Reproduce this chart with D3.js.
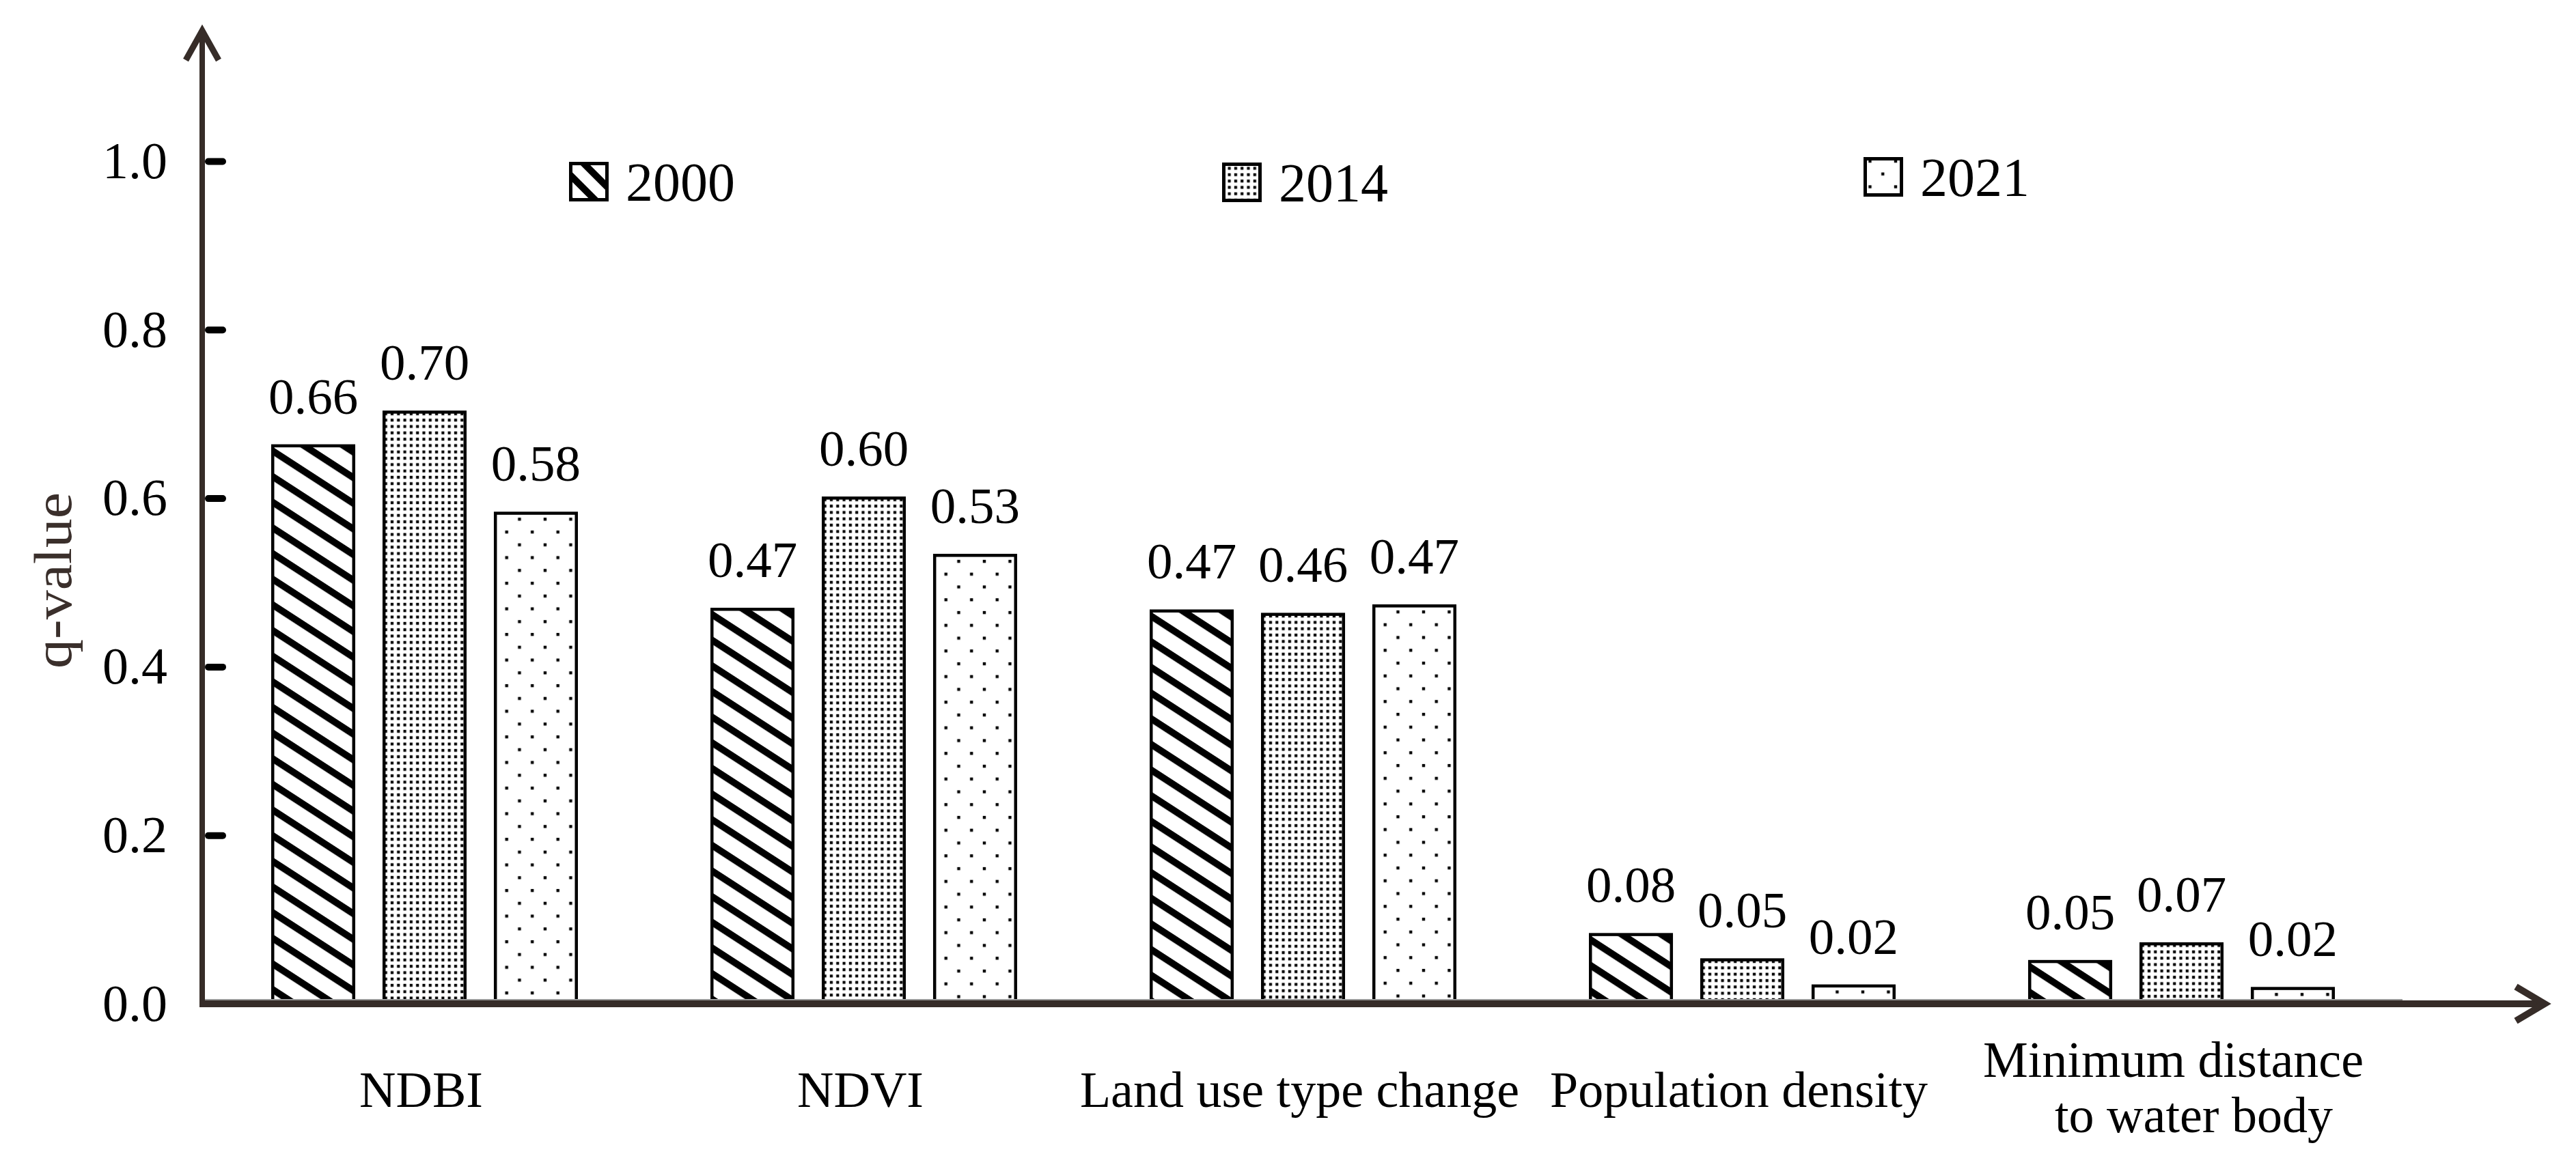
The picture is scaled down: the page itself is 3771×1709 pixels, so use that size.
<!DOCTYPE html>
<html>
<head>
<meta charset="utf-8">
<script src="https://cdn.jsdelivr.net/npm/d3@7"></script>
<style>
  body { margin: 0; background: #fff; }
  text { font-family: "Liberation Serif", "Times New Roman", serif; }
</style>
</head>
<body>
<script>
// data
var categories = ["NDBI", "NDVI", "Land use type change", "Population density", "Minimum distance\nto water body"];
var years = ["2000", "2014", "2021"];
var q2000 = [0.664, 0.470, 0.468, 0.084, 0.052];
var q2014 = [0.704, 0.602, 0.464, 0.054, 0.073];
var q2021 = [0.584, 0.534, 0.474, 0.023, 0.020];
var yTicks = [0, 0.2, 0.4, 0.6, 0.8, 1.0];
var yTitle = "q-value";

var W = 3771, H = 1709;
var axisColor = "#362c28";
var series = [q2000, q2014, q2021];
var barFills = ["url(#stripe)", "url(#dense)", "url(#sparse)"];
var legendFills = ["url(#stripeLegend)", "url(#dense)", "url(#sparse)"];

var svg = d3.select("body").append("svg")
  .attr("width", W).attr("height", H);
svg.append("rect").attr("width", W).attr("height", H).attr("fill", "#fff");

var defs = svg.append("defs");

var makeStripe = function(id, period, thick, angle){
  var p = defs.append("pattern").attr("id", id)
    .attr("patternUnits", "userSpaceOnUse")
    .attr("width", 40).attr("height", period)
    .attr("patternTransform", "rotate(" + angle + ")");
  p.append("rect").attr("width", 40).attr("height", period).attr("fill", "#fff");
  p.append("rect").attr("y", 2).attr("width", 40).attr("height", thick).attr("fill", "#000");
};
makeStripe("stripe", 31.5, 10, 33);
makeStripe("stripeLegend", 26, 10, 45);

// dense dots (2014)
var dense = defs.append("pattern").attr("id", "dense")
  .attr("patternUnits", "userSpaceOnUse")
  .attr("width", 9.3).attr("height", 9.3);
dense.append("rect").attr("width", 9.3).attr("height", 9.3).attr("fill", "#fff");
dense.append("rect").attr("x", 2.6).attr("y", 2.6).attr("width", 4.2).attr("height", 4.2).attr("fill", "#000");

// sparse staggered dots (2021)
var sparse = defs.append("pattern").attr("id", "sparse")
  .attr("patternUnits", "userSpaceOnUse")
  .attr("width", 37.5).attr("height", 37.5);
sparse.append("rect").attr("width", 37.5).attr("height", 37.5).attr("fill", "#fff");
[[0, 11], [37.5, 11], [18.75, 29.75]].forEach(function(d){
  sparse.append("rect").attr("x", d[0] - 2.2).attr("y", d[1] - 2.2)
    .attr("width", 4.4).attr("height", 4.4).attr("fill", "#000");
});

// scales
var x0 = d3.scaleBand().domain(categories).range([300, 3515])
  .paddingInner(0.3017).paddingOuter(0.15085);
var x1 = d3.scaleBand().domain(years).range([0, x0.bandwidth()])
  .paddingInner(0.245);
var y = d3.scaleLinear().domain([0, 1]).range([1470, 236]);

var valFmt = d3.format(".2f");

// bars
var bw = x1.bandwidth();
years.forEach(function(yr, i){
  categories.forEach(function(cat, c){
    var v = series[i][c];
    var gx = x0(cat) + x1(yr), top = y(v);
    var g = svg.append("g").attr("transform", "translate(" + gx + "," + top + ")");
    g.append("rect")
      .attr("x", 2.25).attr("y", 2.25)
      .attr("width", bw - 4.5).attr("height", y(0) - top)
      .attr("fill", barFills[i])
      .attr("stroke", "#000").attr("stroke-width", 4.5);
    svg.append("text")
      .attr("x", gx + bw / 2).attr("y", top - 45)
      .attr("text-anchor", "middle")
      .attr("font-size", 75)
      .attr("fill", "#000")
      .text(valFmt(v));
  });
});

// faint line on top of x axis
svg.append("line")
  .attr("x1", 296).attr("x2", 3517).attr("y1", 1464).attr("y2", 1464)
  .attr("stroke", "#9a9a9a").attr("stroke-width", 2);

// y axis ticks and labels
var yAxis = d3.axisLeft(y).tickValues(yTicks)
  .tickFormat(d3.format(".1f"))
  .tickSizeInner(-30).tickSizeOuter(0).tickPadding(51);
var gy = svg.append("g").attr("transform", "translate(296,0)").call(yAxis);
gy.select(".domain").remove();
gy.selectAll(".tick line")
  .attr("x1", 9).attr("x2", 30)
  .attr("stroke", "#000").attr("stroke-width", 10).attr("stroke-linecap", "round");
gy.selectAll(".tick").filter(function(d){ return d === 0; }).select("line").remove();
gy.selectAll(".tick text")
  .attr("font-size", 76).attr("fill", "#000")
  .attr("font-family", "Liberation Serif, serif");

// axis lines with arrows
svg.append("line")
  .attr("x1", 296).attr("x2", 296).attr("y1", 1475).attr("y2", 46)
  .attr("stroke", axisColor).attr("stroke-width", 8);
svg.append("polyline")
  .attr("points", "272,88 296,45 320,88")
  .attr("fill", "none").attr("stroke", axisColor).attr("stroke-width", 9);
svg.append("line")
  .attr("x1", 292).attr("x2", 3722).attr("y1", y(0)).attr("y2", y(0))
  .attr("stroke", axisColor).attr("stroke-width", 10);
svg.append("polyline")
  .attr("points", "3683,1445 3725,1470 3683,1495")
  .attr("fill", "none").attr("stroke", axisColor).attr("stroke-width", 10);

// y title
svg.append("text")
  .attr("transform", "translate(104,850) rotate(-90) scale(1,0.9)")
  .attr("text-anchor", "middle")
  .attr("font-size", 86)
  .attr("fill", "#3a2f2b")
  .text(yTitle);

// category labels
categories.forEach(function(cat){
  var lines = cat.split("\n");
  var cx = x0(cat) + x0.bandwidth() / 2;
  var t = svg.append("text")
    .attr("text-anchor", "middle")
    .attr("font-size", 74)
    .attr("fill", "#000");
  if (lines.length === 1) {
    t.append("tspan").attr("x", cx - 5).attr("y", 1621).text(lines[0]);
  } else {
    t.append("tspan").attr("x", cx - 12).attr("y", 1577).text(lines[0]);
    t.append("tspan").attr("x", cx + 18).attr("y", 1658).text(lines[1]);
  }
});

// legend
var legendX = [833, 1789, 2728];
var legendY = [237, 238, 230];
years.forEach(function(yr, i){
  svg.append("rect")
    .attr("x", legendX[i] + 2.5).attr("y", legendY[i] + 2.5)
    .attr("width", 53).attr("height", 53)
    .attr("fill", legendFills[i])
    .attr("stroke", "#000").attr("stroke-width", 5);
  svg.append("text")
    .attr("x", legendX[i] + 83).attr("y", legendY[i] + 57)
    .attr("font-size", 80)
    .attr("fill", "#000")
    .text(yr);
});
</script>
</body>
</html>
